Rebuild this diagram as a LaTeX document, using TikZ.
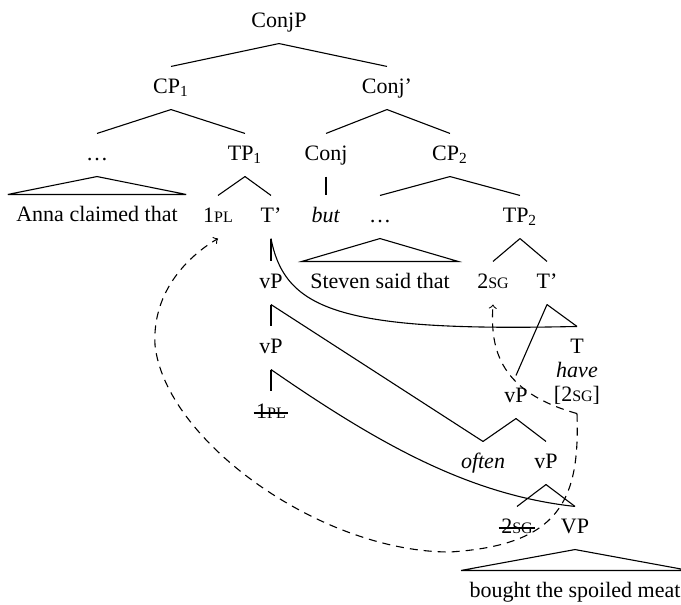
\documentclass[tikz,border=0pt]{standalone}
\usepackage{fontspec}
\setmainfont{Liberation Serif}
\newcommand{\fsc}[1]{{\fontsize{8pt}{9pt}\selectfont #1}}
\begin{document}
\begin{tikzpicture}[x=0.5pt, y=-0.5pt, line width=0.55pt,
    every node/.style={inner xsep=1pt, inner ysep=0pt, text height=7.5pt, text depth=2.5pt,
      minimum height=21pt, font=\fontsize{11pt}{13pt}\selectfont},
    tri/.style={inner xsep=4pt},
    agree/.style={dash pattern=on 4pt off 3pt, ->}]
      \useasboundingbox (0,0) rectangle (681,605);
      \node (conjp) at (279,22) {ConjP};
      \node (cp1) at (171,88) {CP\textsubscript{1}};
      \node (conjbar) at (387,88) {Conj'};
      \node (dots1) at (97,155) {\dots};
      \node (tp1) at (245,155) {TP\textsubscript{1}};
      \node (conj) at (326,155) {Conj};
      \node (cp2) at (450,155) {CP\textsubscript{2}};
      \node[tri] (anna) at (97,216) {Anna claimed that};
      \node (pl1) at (218,217) {1\fsc{PL}};
      \node (tbar1) at (271,217) {T'};
      \node (but) at (326,217) {\textit{but}};
      \node (dots2) at (380,217) {\dots};
      \node (tp2) at (520,217) {TP\textsubscript{2}};
      \node[tri] (steven) at (380,283) {Steven said that};
      \node (vp1) at (271,283) {vP};
      \node (sg1) at (493,283) {2\fsc{SG}};
      \node (tbar2) at (547,283) {T'};
      \node (vp2) at (271,348) {vP};
      \node (t) at (577,348) {T};
      \node (have) at (577,372) {\textit{have}};
      \node (feat) at (577,396) {[2\fsc{SG}]};
      \node (vp3) at (516,397) {vP};
      \node (pl2) at (271,413) {1\fsc{PL}};
      \node (often) at (483,463) {\textit{often}};
      \node (vp4) at (546,463) {vP};
      \node (sg2) at (517,528) {2\fsc{SG}};
      \node (vpbig) at (575,528) {VP};
      \node[tri] (meat) at (575,592) {bought the spoiled meat};
      % branches
      \draw (conjp.south) -- (cp1.north);
      \draw (conjp.south) -- (conjbar.north);
      \draw (cp1.south) -- (dots1.north);
      \draw (cp1.south) -- (tp1.north);
      \draw (conjbar.south) -- (conj.north);
      \draw (conjbar.south) -- (cp2.north);
      \draw (dots1.south) -- (anna.north east) -- (anna.north west) -- cycle;
      \draw (tp1.south) -- (pl1.north);
      \draw (tp1.south) -- (tbar1.north);
      \draw (conj.south) -- (but.north);
      \draw (cp2.south) -- (dots2.north);
      \draw (cp2.south) -- (tp2.north);
      \draw (dots2.south) -- (steven.north east) -- (steven.north west) -- cycle;
      \draw (tbar1.south) -- (vp1.north);
      \draw (tbar1.south) .. controls (285,310) and (340,332) .. (t.north);
      \draw (tp2.south) -- (sg1.north);
      \draw (tp2.south) -- (tbar2.north);
      \draw (tbar2.south) -- (t.north);
      \draw (tbar2.south) -- (vp3.north);
      \draw (vp1.south) -- (vp2.north);
      \draw (vp1.south) -- (often.north);
      \draw (vp2.south) -- (pl2.north);
      \draw (vp2.south) .. controls (380,445) and (470,495) .. (vpbig.north);
      \draw (vp3.south) -- (often.north);
      \draw (vp3.south) -- (vp4.north);
      \draw (vp4.south) -- (sg2.north);
      \draw (vp4.south) -- (vpbig.north);
      \draw (vpbig.south) -- (meat.north east) -- (meat.north west) -- cycle;
      % deleted copies
      \draw (pl2.west) -- (pl2.east);
      \draw (sg2.west) -- (sg2.east);
      % agreement
      \draw[agree] ([yshift=2pt]feat.south) .. controls (500,392) and (490,350) .. (sg1.south);
      \draw[agree] ([yshift=2pt]feat.south) .. controls (580,500) and (560,545) .. (450,552)
        .. controls (320,552) and (165,440) .. (155,345)
        .. controls (152,290) and (190,255) .. (pl1.south);
    \end{tikzpicture}
\end{document}
